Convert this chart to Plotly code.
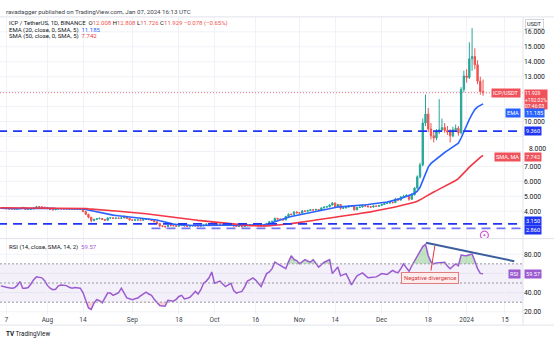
import plotly.graph_objects as go
import pandas as pd

W, H = 554, 346

# ---------------- data: ICP/USDT daily bars ----------------
closes = [
    4.20, 4.18, 4.17, 4.15, 4.16, 4.14, 4.17, 4.20, 4.25, 4.12,
    4.13, 4.15, 4.22, 4.30, 4.29, 4.27, 4.24, 4.18, 4.12, 4.10,
    4.14, 4.17, 4.16, 4.15, 4.16, 4.13, 4.12, 4.13, 4.12, 4.12,
    3.98, 3.80, 3.60, 3.38, 3.45, 3.50, 3.52, 3.45, 3.40, 3.55,
    3.56, 3.52, 3.54, 3.53, 3.55, 3.66, 3.52, 3.42, 3.40, 3.42,
    3.42, 3.40, 3.45, 3.48, 3.44, 3.38, 3.30, 3.18, 3.02, 3.00,
    2.98, 3.05, 3.04, 3.03, 3.00, 3.04, 3.08, 3.02, 3.00, 3.01,
    3.05, 3.02, 3.01, 3.02, 3.08, 3.14, 3.18, 3.22, 3.15, 3.12,
    3.14, 3.12, 3.06, 3.09, 3.08, 3.02, 2.98, 3.00, 2.97, 3.02,
    3.07, 3.10, 3.08, 3.05, 3.02, 3.00, 3.09, 3.18, 3.30, 3.32,
    3.52, 3.48, 3.45, 3.42, 3.65, 3.80, 3.78, 3.95, 3.90, 3.88,
    4.02, 4.00, 4.05, 4.10, 4.08, 4.12, 4.06, 4.22, 4.28, 4.30,
    4.42, 4.55, 4.30, 4.45, 4.20, 4.22, 4.28, 4.35, 4.33, 4.10,
    4.25, 4.28, 4.38, 4.35, 4.30, 4.28, 4.35, 4.33, 4.38, 4.45,
    4.52, 4.55, 4.60, 4.58, 4.82, 4.75, 4.95, 5.00, 5.05, 4.80,
    5.10, 5.55, 6.30, 7.10, 9.90, 10.50, 9.50, 9.05, 8.90, 9.30,
    9.45, 9.60, 9.40, 9.30, 9.05, 9.45, 9.55, 9.25, 12.15, 13.05,
    12.95, 14.20, 14.35, 13.80, 12.70, 12.007, 11.929,
]
highs = [
    4.26, 4.23, 4.22, 4.20, 4.19, 4.18, 4.21, 4.24, 4.31, 4.27,
    4.17, 4.19, 4.26, 4.36, 4.34, 4.33, 4.30, 4.26, 4.20, 4.15,
    4.18, 4.21, 4.20, 4.19, 4.20, 4.18, 4.16, 4.16, 4.15, 4.15,
    4.14, 4.00, 3.83, 3.62, 3.50, 3.55, 3.58, 3.55, 3.48, 3.60,
    3.62, 3.59, 3.58, 3.57, 3.59, 3.72, 3.68, 3.54, 3.45, 3.46,
    3.45, 3.44, 3.49, 3.52, 3.50, 3.46, 3.40, 3.32, 3.20, 3.06,
    3.03, 3.09, 3.08, 3.07, 3.05, 3.08, 3.12, 3.10, 3.04, 3.04,
    3.08, 3.06, 3.04, 3.05, 3.11, 3.18, 3.22, 3.27, 3.24, 3.17,
    3.17, 3.16, 3.14, 3.12, 3.11, 3.10, 3.04, 3.03, 3.02, 3.05,
    3.10, 3.13, 3.12, 3.10, 3.07, 3.04, 3.12, 3.22, 3.35, 3.38,
    3.58, 3.56, 3.51, 3.48, 3.70, 3.86, 3.85, 4.00, 3.99, 3.94,
    4.08, 4.06, 4.10, 4.15, 4.14, 4.17, 4.14, 4.27, 4.33, 4.36,
    4.48, 4.62, 4.58, 4.50, 4.47, 4.28, 4.33, 4.40, 4.39, 4.35,
    4.30, 4.33, 4.43, 4.41, 4.38, 4.33, 4.40, 4.38, 4.43, 4.50,
    4.58, 4.61, 4.67, 4.65, 4.90, 4.88, 5.02, 5.10, 5.15, 5.08,
    5.18, 5.62, 6.40, 7.25, 10.20, 11.80, 10.90, 9.90, 9.30, 9.50,
    11.50, 10.20, 9.90, 9.70, 9.50, 9.65, 9.80, 9.70, 12.30, 13.40,
    13.50, 15.30, 16.25, 14.90, 14.10, 13.00, 12.808,
]
lows = [
    4.16, 4.15, 4.14, 4.12, 4.13, 4.10, 4.12, 4.15, 4.18, 4.08,
    4.09, 4.11, 4.13, 4.20, 4.25, 4.24, 4.21, 4.14, 4.08, 4.06,
    4.08, 4.12, 4.13, 4.12, 4.12, 4.10, 4.09, 4.10, 4.10, 4.09,
    3.94, 3.74, 3.52, 3.26, 3.33, 3.42, 3.46, 3.41, 3.36, 3.38,
    3.51, 3.48, 3.49, 3.50, 3.50, 3.53, 3.48, 3.38, 3.36, 3.37,
    3.39, 3.37, 3.38, 3.43, 3.41, 3.34, 3.26, 3.13, 2.95, 2.93,
    2.86, 2.95, 3.00, 3.00, 2.96, 2.98, 3.02, 2.99, 2.96, 2.97,
    2.99, 2.99, 2.98, 2.99, 3.01, 3.06, 3.12, 3.16, 3.12, 3.09,
    3.10, 3.09, 3.03, 3.04, 3.05, 2.99, 2.94, 2.95, 2.93, 2.95,
    3.00, 3.05, 3.05, 3.02, 2.99, 2.96, 2.98, 3.07, 3.16, 3.26,
    3.30, 3.43, 3.40, 3.37, 3.40, 3.62, 3.72, 3.75, 3.85, 3.82,
    3.85, 3.95, 3.97, 4.02, 4.03, 4.05, 4.01, 4.04, 4.18, 4.24,
    4.27, 4.38, 4.24, 4.26, 4.10, 4.15, 4.18, 4.25, 4.28, 4.05,
    4.07, 4.21, 4.25, 4.30, 4.26, 4.23, 4.25, 4.29, 4.30, 4.35,
    4.42, 4.48, 4.51, 4.52, 4.55, 4.68, 4.72, 4.90, 4.95, 4.70,
    4.76, 5.05, 5.50, 6.20, 7.00, 9.70, 9.30, 8.80, 8.60, 8.75,
    9.15, 9.35, 9.25, 9.10, 8.60, 8.95, 9.30, 9.05, 9.15, 11.95,
    12.60, 12.85, 13.40, 13.50, 12.50, 11.80, 11.726,
]
# each bar opens at the prior close; the last bar printed one tick higher
opens = [4.22] + closes[:-1]
opens[-1] = 12.008

ema20 = [
    4.20, 4.19, 4.19, 4.18, 4.18, 4.17, 4.17, 4.17, 4.18, 4.17,
    4.17, 4.17, 4.17, 4.18, 4.19, 4.20, 4.20, 4.20, 4.19, 4.19,
    4.18, 4.18, 4.18, 4.18, 4.18, 4.17, 4.17, 4.17, 4.16, 4.16,
    4.15, 4.12, 4.08, 4.03, 3.98, 3.94, 3.90, 3.86, 3.82, 3.79,
    3.77, 3.74, 3.72, 3.70, 3.68, 3.67, 3.65, 3.63, 3.61, 3.59,
    3.57, 3.55, 3.53, 3.52, 3.50, 3.48, 3.45, 3.41, 3.36, 3.31,
    3.26, 3.21, 3.17, 3.14, 3.12, 3.10, 3.09, 3.08, 3.07, 3.06,
    3.05, 3.05, 3.04, 3.04, 3.04, 3.05, 3.06, 3.07, 3.08, 3.08,
    3.08, 3.08, 3.08, 3.08, 3.08, 3.07, 3.06, 3.05, 3.05, 3.05,
    3.05, 3.05, 3.05, 3.06, 3.06, 3.07, 3.09, 3.12, 3.16, 3.22,
    3.30, 3.37, 3.43, 3.48, 3.54, 3.60, 3.65, 3.69, 3.73, 3.77,
    3.81, 3.85, 3.88, 3.92, 3.95, 3.99, 4.02, 4.06, 4.10, 4.14,
    4.18, 4.23, 4.26, 4.28, 4.29, 4.30, 4.31, 4.33, 4.35, 4.36,
    4.37, 4.39, 4.41, 4.43, 4.45, 4.47, 4.49, 4.51, 4.53, 4.56,
    4.59, 4.62, 4.66, 4.70, 4.75, 4.80, 4.86, 4.92, 4.98, 5.03,
    5.10, 5.20, 5.35, 5.60, 6.05, 6.55, 6.95, 7.20, 7.35, 7.52,
    7.67, 7.80, 7.93, 8.05, 8.17, 8.30, 8.42, 8.55, 8.90, 9.35,
    9.75, 10.15, 10.50, 10.80, 10.98, 11.10, 11.185,
]
sma50 = [
    4.23, 4.23, 4.23, 4.23, 4.22, 4.22, 4.22, 4.22, 4.22, 4.22,
    4.22, 4.22, 4.22, 4.22, 4.22, 4.22, 4.22, 4.22, 4.22, 4.22,
    4.21, 4.21, 4.21, 4.21, 4.21, 4.21, 4.21, 4.21, 4.20, 4.20,
    4.19, 4.18, 4.16, 4.15, 4.13, 4.12, 4.10, 4.09, 4.07, 4.06,
    4.04, 4.03, 4.01, 4.00, 3.98, 3.97, 3.95, 3.94, 3.93, 3.91,
    3.89, 3.87, 3.85, 3.83, 3.81, 3.79, 3.77, 3.75, 3.73, 3.71,
    3.69, 3.67, 3.64, 3.62, 3.59, 3.57, 3.54, 3.52, 3.49, 3.47,
    3.44, 3.42, 3.39, 3.37, 3.35, 3.32, 3.30, 3.28, 3.26, 3.24,
    3.22, 3.20, 3.18, 3.16, 3.14, 3.12, 3.10, 3.09, 3.07, 3.06,
    3.05, 3.04, 3.03, 3.02, 3.02, 3.02, 3.02, 3.02, 3.03, 3.04,
    3.05, 3.07, 3.09, 3.11, 3.13, 3.15, 3.17, 3.19, 3.21, 3.24,
    3.27, 3.30, 3.33, 3.35, 3.38, 3.41, 3.43, 3.46, 3.49, 3.52,
    3.55, 3.57, 3.60, 3.63, 3.65, 3.68, 3.71, 3.74, 3.76, 3.79,
    3.82, 3.85, 3.87, 3.90, 3.93, 3.96, 4.00, 4.03, 4.07, 4.11,
    4.14, 4.18, 4.22, 4.26, 4.29, 4.33, 4.37, 4.41, 4.45, 4.49,
    4.54, 4.60, 4.67, 4.75, 4.86, 4.98, 5.10, 5.20, 5.29, 5.38,
    5.47, 5.56, 5.65, 5.74, 5.84, 5.95, 6.06, 6.18, 6.35, 6.55,
    6.75, 6.95, 7.13, 7.30, 7.45, 7.60, 7.742,
]
rsi14 = [
    47.0, 46.0, 45.5, 45.0, 44.6, 45.0, 47.5, 51.5, 44.5, 44.5,
    45.3, 49.0, 53.5, 56.4, 55.8, 55.4, 52.5, 47.5, 44.6, 43.0,
    43.5, 47.0, 48.0, 47.5, 47.3, 45.5, 44.6, 45.3, 45.0, 44.6,
    40.0, 33.0, 24.0, 22.5, 29.0, 32.7, 31.5, 29.3, 35.0, 39.5,
    39.5, 37.1, 38.5, 40.0, 44.6, 39.0, 34.4, 33.5, 32.7, 33.5,
    34.4, 36.5, 38.5, 40.5, 38.5, 37.1, 33.0, 29.3, 26.5, 25.9,
    25.9, 32.0, 31.5, 31.0, 33.0, 36.0, 37.1, 33.4, 34.0, 35.1,
    38.0, 41.2, 38.5, 43.0, 49.7, 52.0, 55.4, 61.5, 49.7, 51.0,
    52.0, 49.0, 46.3, 48.0, 49.7, 42.0, 39.5, 40.5, 41.2, 46.0,
    52.0, 53.5, 55.4, 53.0, 49.7, 46.3, 53.0, 59.8, 61.5, 65.0,
    71.7, 70.0, 68.3, 66.5, 64.9, 72.0, 78.5, 74.5, 73.4, 70.0,
    72.0, 74.4, 73.0, 71.7, 74.4, 70.0, 66.6, 69.0, 71.7, 73.0,
    74.4, 59.8, 63.0, 66.6, 57.5, 58.5, 59.8, 54.0, 48.0, 53.0,
    57.5, 59.0, 60.5, 58.0, 55.4, 55.8, 56.2, 56.4, 58.0, 59.8,
    59.3, 58.8, 61.0, 63.2, 61.5, 60.8, 65.0, 70.0, 66.0, 62.2,
    68.0, 73.4, 78.0, 83.6, 88.0, 90.3, 78.5, 72.0, 70.0, 71.0,
    71.3, 71.5, 71.7, 67.6, 64.9, 67.5, 70.0, 68.0, 79.2, 78.8,
    78.5, 79.5, 80.2, 73.0, 65.0, 60.0, 59.57,
]

dates = pd.date_range("2023-07-15", periods=len(closes), freq="D")

# horizontal support / resistance levels (price, start date, colour)
levels = [9.36, 3.15, 2.86]
level_starts = ["2023-07-14", "2023-07-14", "2023-09-08"]
level_colors = ["#1f35f2", "#1f35f2", "#7474f4"]

# RSI trend line over the two highs, and the divergence pointer
rsi_trend_x = ["2023-12-17 05:00", "2024-01-18 10:00"]
rsi_trend_y = [92.0, 72.7]
div_arrow_x = ["2023-12-19 00:00", "2023-12-20 10:00"]
div_arrow_y = [63.0, 89.0]
div_label_pos = ("2023-12-18 12:00", 55.3)
event_pos = ("2024-01-07 12:00", 2.40)

tick_dates = ["2023-07-17", "2023-08-01", "2023-08-14", "2023-09-01", "2023-09-18",
              "2023-10-01", "2023-10-16", "2023-11-01", "2023-11-14", "2023-12-01",
              "2023-12-18", "2024-01-01", "2024-01-15"]
tick_text = ["7", "Aug", "14", "Sep", "18", "Oct", "16", "Nov", "14", "Dec", "18", "2024", "15"]
# price scale labels left uncovered by the value tags
price_ticks = [4, 5, 6, 7, 10, 13, 14, 15, 16]
price_tick_nudged = 8          # drawn a touch higher, clear of the SMA tag
price_grid = list(range(4, 17))
rsi_ticks = [20, 40, 80]
rsi_grid = [20, 40, 60, 80]
rsi_guides = [30, 50, 70]

UP, DN = "#26a69a", "#ef5350"
EMA_C, SMA_C, RSI_C = "#2962ff", "#f23645", "#9c5bd1"
TXT = "#131722"
FONT = "Roboto"


def ppx(x):
    return x / W


def ppy(y):
    return 1 - y / H


X_DOM = [0, ppx(523)]
PRICE_DOM = [ppy(240), ppy(17)]
RSI_DOM = [ppy(316), ppy(240)]
X_RANGE = ["2023-07-14 17:00", "2024-01-21 14:00"]

fig = go.Figure()

# ---- price pane ----
fig.add_trace(go.Candlestick(
    x=dates, open=opens, high=highs, low=lows, close=closes,
    increasing=dict(line=dict(color=UP, width=1), fillcolor=UP),
    decreasing=dict(line=dict(color=DN, width=1), fillcolor=DN),
    whiskerwidth=0, showlegend=False, hoverinfo="skip", xaxis="x", yaxis="y"))
fig.add_trace(go.Scatter(x=dates, y=ema20, mode="lines", line=dict(color=EMA_C, width=1.6),
                         showlegend=False, hoverinfo="skip", xaxis="x", yaxis="y"))
fig.add_trace(go.Scatter(x=dates, y=sma50, mode="lines", line=dict(color=SMA_C, width=1.6),
                         showlegend=False, hoverinfo="skip", xaxis="x", yaxis="y"))
fig.add_trace(go.Scatter(x=[event_pos[0]], y=[event_pos[1]], mode="markers",
                         marker=dict(symbol="circle-open-dot", size=8, color="#d45fd8",
                                     line=dict(width=1.2, color="#d45fd8")),
                         showlegend=False, hoverinfo="skip", xaxis="x", yaxis="y"))

# ---- RSI pane ----
n = len(rsi14)
over = [max(v, 70) for v in rsi14]
under = [min(v, 30) for v in rsi14]
fig.add_trace(go.Scatter(x=dates, y=[70] * n, mode="lines", line=dict(width=0),
                         showlegend=False, hoverinfo="skip", xaxis="x2", yaxis="y2"))
fig.add_trace(go.Scatter(x=dates, y=over, mode="lines", line=dict(width=0), fill="tonexty",
                         fillcolor="rgba(76,175,80,0.35)",
                         showlegend=False, hoverinfo="skip", xaxis="x2", yaxis="y2"))
fig.add_trace(go.Scatter(x=dates, y=[30] * n, mode="lines", line=dict(width=0),
                         showlegend=False, hoverinfo="skip", xaxis="x2", yaxis="y2"))
fig.add_trace(go.Scatter(x=dates, y=under, mode="lines", line=dict(width=0), fill="tonexty",
                         fillcolor="rgba(242,54,69,0.22)",
                         showlegend=False, hoverinfo="skip", xaxis="x2", yaxis="y2"))
fig.add_trace(go.Scatter(x=dates, y=rsi14, mode="lines", line=dict(color=RSI_C, width=1.5),
                         showlegend=False, hoverinfo="skip", xaxis="x2", yaxis="y2"))
fig.add_trace(go.Scatter(x=rsi_trend_x, y=rsi_trend_y, mode="lines",
                         line=dict(color="#3c5e9c", width=2),
                         showlegend=False, hoverinfo="skip", xaxis="x2", yaxis="y2"))
fig.add_trace(go.Scatter(x=div_arrow_x, y=div_arrow_y, mode="lines",
                         line=dict(color="#e0393e", width=1),
                         showlegend=False, hoverinfo="skip", xaxis="x2", yaxis="y2"))

grid = "#f0f2f7"
shapes = []
# horizontal grid lines (including rows whose labels sit under value tags)
for g in price_grid:
    shapes.append(dict(type="line", xref="x domain", yref="y", x0=0, x1=1, y0=g, y1=g,
                       line=dict(color=grid, width=1), layer="below"))
for g in rsi_grid:
    shapes.append(dict(type="line", xref="x2 domain", yref="y2", x0=0, x1=1, y0=g, y1=g,
                       line=dict(color=grid, width=1), layer="below"))
# RSI background band and guide lines
shapes.append(dict(type="rect", xref="x2 domain", yref="y2", x0=0, x1=1, y0=30, y1=70,
                   fillcolor="rgba(126,87,194,0.09)", line=dict(width=0), layer="below"))
for g in rsi_guides:
    shapes.append(dict(type="line", xref="x2 domain", yref="y2", x0=0, x1=1, y0=g, y1=g,
                       line=dict(color="#9598a1", width=1, dash="2px,2px")))
# support / resistance lines
for lv, st, col in zip(levels, level_starts, level_colors):
    shapes.append(dict(type="line", xref="x", yref="y", x0=st, x1=X_RANGE[1], y0=lv, y1=lv,
                       line=dict(color=col, width=1.8, dash="9px,6px")))
# last price line
shapes.append(dict(type="line", xref="x domain", yref="y", x0=0, x1=1,
                   y0=closes[-1], y1=closes[-1],
                   line=dict(color="#f7707a", width=1, dash="1px,2px")))
# frame lines
frame = "#e0e3eb"
shapes += [
    dict(type="line", xref="paper", yref="paper", x0=0, x1=1, y0=ppy(17), y1=ppy(17),
         line=dict(color=frame, width=1)),
    dict(type="line", xref="paper", yref="paper", x0=0, x1=1, y0=ppy(240), y1=ppy(240),
         line=dict(color=frame, width=1)),
    dict(type="line", xref="paper", yref="paper", x0=0, x1=1, y0=ppy(327), y1=ppy(327),
         line=dict(color=frame, width=1)),
    dict(type="line", xref="paper", yref="paper", x0=ppx(523), x1=ppx(523), y0=ppy(327),
         y1=ppy(17), line=dict(color=frame, width=1)),
]

ann = []


def text_at(x, y, s, size=6.3, color=TXT, anchor="left"):
    ann.append(dict(xref="paper", yref="paper", x=ppx(x), y=ppy(y), text=s, showarrow=False,
                    xanchor=anchor, yanchor="middle", font=dict(family=FONT, size=size, color=color)))


def tag(s, yval, yref, bg, right_px=None, left_px=None, yshift=0, size=5.6, fg="white"):
    if right_px is not None:
        xa, xx = "right", ppx(right_px)
    else:
        xa, xx = "left", ppx(left_px)
    ann.append(dict(xref="paper", yref=yref, x=xx, y=yval, text=s, showarrow=False,
                    xanchor=xa, yanchor="middle", yshift=yshift, bgcolor=bg, borderpad=1,
                    font=dict(family=FONT, size=size, color=fg)))


def minus(s):
    return s.replace("-", "\u2212")


text_at(4, 11.7, "ravadagger published on TradingView.com, Jan 07, 2024 16:13 UTC",
        size=6.2, color="#3b3f4a")

chg = closes[-1] - closes[-2]
pct = chg / closes[-2] * 100
red = f"<span style='color:{DN}'>"
line1 = (f"ICP / TetherUS, 1D, BINANCE  O{red}{opens[-1]:.3f}</span> "
         f"H{red}{highs[-1]:.3f}</span> L{red}{lows[-1]:.3f}</span> "
         f"C{red}{closes[-1]:.3f}</span> {red}{minus(f'{chg:+.3f}')} ({minus(f'{pct:+.2f}')}%)</span>")
text_at(7, 23.3, line1, size=6.0)
text_at(7, 29.7, f"EMA (20, close, 0, SMA, 5)  <span style='color:{EMA_C}'>{ema20[-1]:.3f}</span>", size=6.0)
text_at(7, 36.0, f"SMA (50, close, 0, SMA, 5)  <span style='color:{SMA_C}'>{sma50[-1]:.3f}</span>", size=6.0)
text_at(7, 248.3, f"RSI (14, close, SMA, 14, 2)  <span style='color:{RSI_C}'>{rsi14[-1]:.2f}</span>", size=6.0)
text_at(4, 336, "<b>TV</b> TradingView", size=6.3, color=TXT)

axis_font = dict(family=FONT, size=6.8, color=TXT)
# price scale label nudged above the SMA value tag
ann.append(dict(xref="paper", yref="y", x=ppx(527), y=price_tick_nudged, yshift=2.5,
                text=f"{price_tick_nudged:.3f}", showarrow=False, xanchor="left",
                yanchor="middle", font=axis_font))

# right-hand axis tags
ann.append(dict(xref="paper", yref="paper", x=ppx(534.5), y=ppy(24), text="USDT", showarrow=False,
                xanchor="center", yanchor="middle", bgcolor="white", bordercolor="#d1d4dc",
                borderwidth=1, borderpad=1, font=dict(family=FONT, size=5.6, color=TXT)))
tag("ICP/USDT", closes[-1], "y", "#f0525b", right_px=521)
ann.append(dict(xref="paper", yref="y", x=ppx(524), y=closes[-1], text=(
    f"{closes[-1]:.3f}<br>+192.02%<br>07:46:03"), showarrow=False, xanchor="left", yanchor="top",
    yshift=4, bgcolor="#f0525b", borderpad=0, align="left",
    font=dict(family=FONT, size=5.0, color="white")))
tag("EMA", ema20[-1], "y", EMA_C, right_px=521, yshift=-9.5)
tag(f"{ema20[-1]:.3f}", ema20[-1], "y", EMA_C, left_px=524, yshift=-9.5)
tag("SMA, MA", sma50[-1], "y", "#f0525b", right_px=521, yshift=-1.5)
tag(f"{sma50[-1]:.3f}", sma50[-1], "y", "#f0525b", left_px=524, yshift=-1.5)
for lv, sh in zip(levels, [0, 3, -1.5]):
    tag(f"{lv:.3f}", lv, "y", "#1f35f2", left_px=524, yshift=sh)
tag("RSI", rsi14[-1], "y2", RSI_C, right_px=521)
tag(f"{rsi14[-1]:.2f}", rsi14[-1], "y2", RSI_C, left_px=524)

# divergence callout
ann.append(dict(xref="x2", yref="y2", x=div_label_pos[0], y=div_label_pos[1],
                text="Negative divergence", showarrow=False, xanchor="center", yanchor="middle",
                bgcolor="rgba(255,236,236,0.95)", bordercolor="#e07d80", borderwidth=1, borderpad=2,
                font=dict(family=FONT, size=5.8, color="#d43a3f")))

fig.update_layout(
    width=W, height=H, margin=dict(l=0, r=0, t=0, b=0),
    paper_bgcolor="white", plot_bgcolor="white", showlegend=False,
    xaxis=dict(domain=X_DOM, anchor="y", range=X_RANGE, type="date", tickvals=tick_dates,
               showticklabels=False, showgrid=True, gridcolor=grid, zeroline=False,
               rangeslider=dict(visible=False), fixedrange=True),
    xaxis2=dict(domain=X_DOM, anchor="y2", range=X_RANGE, type="date", matches="x",
                tickvals=tick_dates, ticktext=tick_text, showgrid=True, gridcolor=grid,
                zeroline=False, ticks="", tickfont=dict(family=FONT, size=6.5, color="#3b3f4a")),
    yaxis=dict(domain=PRICE_DOM, anchor="x", side="right", range=[2.17, 17.0],
               tickvals=price_ticks, ticktext=[f"{v:.3f}" for v in price_ticks],
               showgrid=False, zeroline=False, ticks="", tickfont=axis_font),
    yaxis2=dict(domain=RSI_DOM, anchor="x2", side="right", range=[17.5, 96.3],
                tickvals=rsi_ticks, ticktext=[f"{v:.2f}" for v in rsi_ticks],
                showgrid=False, zeroline=False, ticks="", tickfont=axis_font),
    shapes=shapes, annotations=ann,
)

fig.write_html("out.html")
